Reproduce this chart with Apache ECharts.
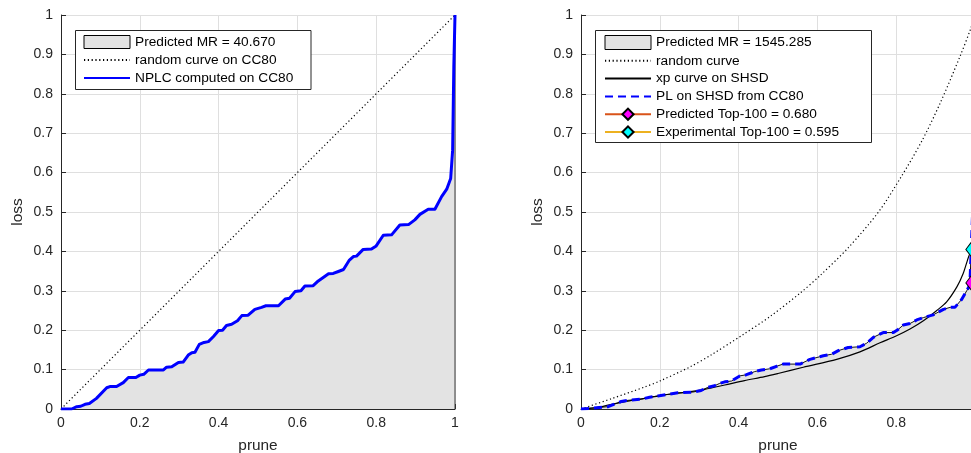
<!DOCTYPE html>
<html>
<head>
<meta charset="utf-8">
<title>Pruning loss curves</title>
<script src="https://cdn.jsdelivr.net/npm/echarts@6/dist/echarts.min.js"></script>
<style>
  html, body { margin: 0; padding: 0; background: #ffffff; }
  #chart { width: 971px; height: 453px; }
</style>
</head>
<body>
<div id="chart"></div>
<script>
// ---- Left panel: NPLC computed on CC80 ----
const nplcPrune = [0, 0.027, 0.04, 0.05, 0.061, 0.072, 0.09, 0.116, 0.124, 0.141, 0.158, 0.171, 0.19, 0.2, 0.21, 0.222,
  0.26, 0.268, 0.281, 0.298, 0.31, 0.323, 0.332, 0.34, 0.351, 0.363, 0.374, 0.387, 0.4, 0.41, 0.42, 0.433, 0.448,
  0.459, 0.475, 0.492, 0.509, 0.52, 0.552, 0.569, 0.58, 0.594, 0.609, 0.619, 0.64, 0.653, 0.679, 0.691, 0.704,
  0.717, 0.732, 0.742, 0.75, 0.767, 0.788, 0.8, 0.818, 0.839, 0.86, 0.882, 0.898, 0.911, 0.932, 0.949, 0.966,
  0.979, 0.989, 0.994, 0.997, 1];
const nplcLoss = [0, 0, 0.006, 0.007, 0.012, 0.014, 0.027, 0.054, 0.057, 0.057, 0.067, 0.08, 0.08, 0.086, 0.088, 0.099,
  0.099, 0.106, 0.107, 0.118, 0.119, 0.137, 0.143, 0.144, 0.164, 0.169, 0.171, 0.184, 0.199, 0.2, 0.212, 0.215, 0.224,
  0.237, 0.238, 0.253, 0.258, 0.262, 0.262, 0.279, 0.281, 0.298, 0.3, 0.312, 0.313, 0.325, 0.343, 0.344, 0.349,
  0.354, 0.378, 0.387, 0.388, 0.405, 0.406, 0.414, 0.441, 0.442, 0.467, 0.468, 0.48, 0.494, 0.507, 0.507, 0.539,
  0.558, 0.585, 0.657, 0.869, 1];
const randomCC80Prune = [0, 1];
const randomCC80Loss = [0, 1];

// ---- Right panel: SHSD ----
const plPrune = [0, 0.026, 0.069, 0.102, 0.119, 0.153, 0.174, 0.195, 0.221, 0.246, 0.284, 0.305, 0.322, 0.339, 0.352,
  0.365, 0.382, 0.403, 0.42, 0.441, 0.458, 0.479, 0.498, 0.513, 0.556, 0.581, 0.615, 0.636, 0.653, 0.678, 0.708,
  0.725, 0.742, 0.767, 0.793, 0.805, 0.818, 0.835, 0.852, 0.869, 0.894, 0.92, 0.937, 0.949, 0.966, 0.979, 0.987,
  0.992, 0.994, 1];
const plLoss = [0, 0.002, 0.006, 0.019, 0.022, 0.025, 0.03, 0.033, 0.037, 0.041, 0.043, 0.047, 0.055, 0.059, 0.065,
  0.069, 0.071, 0.084, 0.087, 0.095, 0.099, 0.102, 0.109, 0.114, 0.114, 0.126, 0.135, 0.139, 0.148, 0.156, 0.158,
  0.167, 0.182, 0.194, 0.194, 0.202, 0.213, 0.217, 0.226, 0.232, 0.239, 0.253, 0.258, 0.258, 0.278, 0.3, 0.315,
  0.32, 0.5, 1];
const xpPrune = [0, 0.043, 0.077, 0.119, 0.162, 0.212, 0.263, 0.314, 0.365, 0.415, 0.466, 0.5, 0.564, 0.649, 0.708,
  0.759, 0.801, 0.835, 0.869, 0.903, 0.928, 0.954, 0.97, 0.981, 0.987, 0.992, 0.996, 1];
const xpLoss = [0, 0.004, 0.012, 0.02, 0.027, 0.036, 0.042, 0.05, 0.061, 0.072, 0.082, 0.09, 0.106, 0.126, 0.145,
  0.168, 0.186, 0.203, 0.224, 0.25, 0.272, 0.31, 0.344, 0.378, 0.395, 0.405, 0.6, 1];
const randomPrune = [0, 0.077, 0.162, 0.2, 0.277, 0.33, 0.41, 0.48, 0.556, 0.607, 0.679, 0.755, 0.81, 0.865, 0.911,
  0.962, 0.989, 1];
const randomLoss = [0, 0.026, 0.056, 0.071, 0.107, 0.137, 0.188, 0.235, 0.294, 0.339, 0.41, 0.5, 0.585, 0.68, 0.775,
  0.895, 0.965, 1];
const top100Prune = 0.992;
const predictedTop100 = 0.680;
const experimentalTop100 = 0.595;

// ---- Legend captions ----
const leftNames = ['Predicted MR = 40.670', 'random curve on CC80', 'NPLC computed on CC80'];
const rightNames = ['Predicted MR = 1545.285', 'random curve', 'xp curve on SHSD', 'PL on SHSD from CC80',
  'Predicted Top-100 = ' + predictedTop100.toFixed(3), 'Experimental Top-100 = ' + experimentalTop100.toFixed(3)];
// entries whose legend glyph is a plain line (no marker)
const plainLineNames = [leftNames[1], leftNames[2], rightNames[1], rightNames[2], rightNames[3]];

const zip = (xs, ys) => xs.map((x, i) => [x, ys[i]]);
const withBase = pts => pts.concat([[1, 0]]);

const FONT = '"Liberation Sans", Arial, Helvetica, sans-serif';
const AX = '#262626';
const GRIDC = '#dfdfdf';
const FILL = '#e3e3e3';
const DOTS = [1.2, 2.6];

function xAxisFor(gridIndex) {
  return {
    type: 'value', gridIndex, min: 0, max: 1, interval: 0.2,
    name: 'prune', nameLocation: 'middle', nameGap: 29,
    nameTextStyle: { fontFamily: FONT, fontSize: 15.4, color: AX },
    axisLine: { show: true, onZero: false, lineStyle: { color: AX, width: 1 } },
    axisTick: { show: true, inside: true, length: 5, lineStyle: { color: AX } },
    axisLabel: { fontFamily: FONT, fontSize: 14, color: AX, margin: 7 },
    splitLine: { show: true, lineStyle: { color: GRIDC, width: 1 } }
  };
}
function yAxisFor(gridIndex) {
  return {
    type: 'value', gridIndex, min: 0, max: 1, interval: 0.1,
    name: 'loss', nameLocation: 'middle', nameGap: 36,
    nameTextStyle: { fontFamily: FONT, fontSize: 15.4, color: AX },
    axisLine: { show: true, onZero: false, lineStyle: { color: AX, width: 1 } },
    axisTick: { show: true, inside: true, length: 5, lineStyle: { color: AX } },
    axisLabel: { fontFamily: FONT, fontSize: 14, color: AX, margin: 8 },
    splitLine: { show: true, lineStyle: { color: GRIDC, width: 1 } }
  };
}

function legendFor(left, names, gap, h) {
  return {
    orient: 'vertical', left, top: 35, padding: 0,
    itemWidth: 46, itemHeight: h, itemGap: gap, selectedMode: false,
    textStyle: { fontFamily: FONT, fontSize: 13.7, color: '#000', lineHeight: 14 },
    data: names.map((n, i) => {
      if (i === 0) return { name: n, icon: 'rect', itemStyle: { color: FILL, borderColor: '#000', borderWidth: 1 } };
      if (plainLineNames.includes(n)) return { name: n, itemStyle: { opacity: 0 } };
      return n;
    })
  };
}

const chart = echarts.init(document.getElementById('chart'), null, { renderer: 'canvas' });

chart.setOption({
  animation: false,
  backgroundColor: '#ffffff',
  grid: [
    { left: 61, top: 15, width: 394, height: 394, containLabel: false, outerBoundsMode: 'none' },
    { left: 581, top: 15, width: 394, height: 394, containLabel: false, outerBoundsMode: 'none' }
  ],
  xAxis: [xAxisFor(0), xAxisFor(1)],
  yAxis: [yAxisFor(0), yAxisFor(1)],
  legend: [legendFor(83, leftNames, 4, 13), legendFor(604, rightNames, 3.8, 14)],
  graphic: [
    { type: 'rect', z: 3, shape: { x: 75.5, y: 30.5, width: 235.5, height: 59 },
      style: { fill: '#ffffff', stroke: AX, lineWidth: 1 } },
    { type: 'rect', z: 3, shape: { x: 595.5, y: 30.5, width: 276, height: 112 },
      style: { fill: '#ffffff', stroke: AX, lineWidth: 1 } }
  ],
  series: [
    // left panel
    { type: 'line', name: leftNames[0], xAxisIndex: 0, yAxisIndex: 0, data: zip(nplcPrune, nplcLoss),
      symbol: 'none', lineStyle: { width: 0, color: FILL }, itemStyle: { color: FILL },
      areaStyle: { color: FILL, opacity: 1 }, z: 1 },
    { type: 'line', name: 'fill-edge-left', xAxisIndex: 0, yAxisIndex: 0, data: withBase(zip(nplcPrune, nplcLoss)),
      symbol: 'none', lineStyle: { width: 1, color: '#3a3a3a' }, z: 2 },
    { type: 'line', name: leftNames[1], xAxisIndex: 0, yAxisIndex: 0, data: zip(randomCC80Prune, randomCC80Loss),
      symbol: 'none', lineStyle: { width: 1.2, color: '#000', type: DOTS }, itemStyle: { color: '#000' }, z: 3 },
    { type: 'line', name: leftNames[2], xAxisIndex: 0, yAxisIndex: 0, data: zip(nplcPrune, nplcLoss),
      symbol: 'none', lineStyle: { width: 3, color: '#0000ff', join: 'round' }, itemStyle: { color: '#0000ff' }, z: 4 },

    // right panel
    { type: 'line', name: rightNames[0], xAxisIndex: 1, yAxisIndex: 1, data: zip(plPrune, plLoss),
      symbol: 'none', lineStyle: { width: 0, color: FILL }, itemStyle: { color: FILL },
      areaStyle: { color: FILL, opacity: 1 }, z: 1 },
    { type: 'line', name: 'fill-edge-right', xAxisIndex: 1, yAxisIndex: 1, data: withBase(zip(plPrune, plLoss)),
      symbol: 'none', lineStyle: { width: 1, color: '#111' }, z: 2 },
    { type: 'line', name: rightNames[1], xAxisIndex: 1, yAxisIndex: 1, data: zip(randomPrune, randomLoss),
      symbol: 'none', smooth: 0.3, lineStyle: { width: 1.2, color: '#000', type: DOTS }, itemStyle: { color: '#000' }, z: 3 },
    { type: 'line', name: rightNames[2], xAxisIndex: 1, yAxisIndex: 1, data: zip(xpPrune, xpLoss),
      symbol: 'none', smooth: 0.3, lineStyle: { width: 1.2, color: '#000' }, itemStyle: { color: '#000' }, z: 3 },
    { type: 'line', name: rightNames[3], xAxisIndex: 1, yAxisIndex: 1, data: zip(plPrune, plLoss),
      symbol: 'none', lineStyle: { width: 3, color: '#0000ff', type: [8, 5] }, itemStyle: { color: '#0000ff' }, z: 4 },
    { type: 'line', name: rightNames[4], xAxisIndex: 1, yAxisIndex: 1, data: [[top100Prune, 1 - predictedTop100]],
      symbol: 'diamond', symbolSize: [12, 16], showSymbol: true,
      itemStyle: { color: '#ff00ff', borderColor: '#000', borderWidth: 1 },
      lineStyle: { width: 1, color: '#D95319' }, z: 5 },
    { type: 'line', name: rightNames[5], xAxisIndex: 1, yAxisIndex: 1, data: [[top100Prune, 1 - experimentalTop100]],
      symbol: 'diamond', symbolSize: [12, 16], showSymbol: true,
      itemStyle: { color: '#00ffff', borderColor: '#000', borderWidth: 1 },
      lineStyle: { width: 1, color: '#EDB120' }, z: 5 }
  ]
});
</script>
</body>
</html>
